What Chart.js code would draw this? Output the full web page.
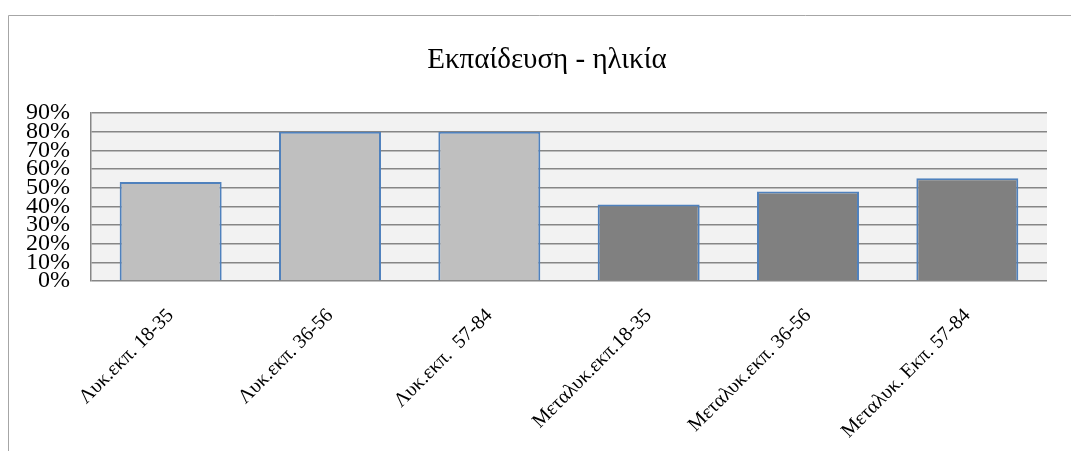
<!DOCTYPE html>
<html>
<head>
<meta charset="utf-8">
<script src="https://cdn.jsdelivr.net/npm/chart.js"></script>
<style>
  html, body { margin: 0; padding: 0; background: #fff; }
  #wrap { width: 1071px; height: 451px; }
</style>
</head>
<body>
<div id="wrap"><canvas id="chart"></canvas></div>
<script>
// data
const categories = ['Λυκ.εκπ. 18-35', 'Λυκ.εκπ. 36-56', 'Λυκ.εκπ.  57-84', 'Μεταλυκ.εκπ.18-35', 'Μεταλυκ.εκπ. 36-56', 'Μεταλυκ. Εκπ. 57-84'];
const values = [53, 80, 80, 41, 48, 55];
const barColors = ['#BFBFBF', '#BFBFBF', '#BFBFBF', '#808080', '#808080', '#808080'];
const titleText = 'Εκπαίδευση - ηλικία';

const serif = "'Liberation Serif', 'Times New Roman', serif";

// plot background, outer frame and the title (centred on the frame, not the canvas)
const frame = {
  id: 'frame',
  beforeDraw(chart) {
    const ctx = chart.ctx, a = chart.chartArea;
    ctx.save();
    ctx.fillStyle = '#F2F2F2';
    ctx.fillRect(a.left, a.top, a.right - a.left, a.bottom - a.top);
    ctx.strokeStyle = '#A6A6A6';
    ctx.lineWidth = 1;
    ctx.beginPath();
    ctx.moveTo(8.5, chart.height);
    ctx.lineTo(8.5, 15.5);
    ctx.lineTo(chart.width, 15.5);
    ctx.stroke();
    ctx.fillStyle = '#000';
    ctx.font = '29px ' + serif;
    ctx.textAlign = 'center';
    ctx.textBaseline = 'middle';
    ctx.fillText(titleText, 547, 60);
    ctx.restore();
  }
};

new Chart(document.getElementById('chart'), {
  type: 'bar',
  data: {
    labels: categories,
    datasets: [{
      data: values,
      backgroundColor: barColors,
      borderColor: '#4F81BD',
      borderWidth: 2,
      categoryPercentage: 1,
      barPercentage: 0.64
    }]
  },
  options: {
    responsive: true,
    maintainAspectRatio: false,
    animation: false,
    layout: { padding: { left: 0, right: 24, top: 113, bottom: 0 } },
    plugins: {
      legend: { display: false },
      tooltip: { enabled: false },
      title: { display: false }
    },
    scales: {
      x: {
        grid: { display: false, drawTicks: false },
        border: { display: false },
        ticks: {
          color: '#000',
          font: { family: serif, size: 20 },
          minRotation: 45,
          maxRotation: 45,
          autoSkip: false,
          padding: 23
        },
        afterFit(scale) { scale.height = 170; }
      },
      y: {
        min: 0,
        max: 90,
        grid: { color: '#868686', lineWidth: 1.5, drawTicks: false },
        border: { display: true, color: '#868686', width: 1.5 },
        ticks: {
          stepSize: 10,
          autoSkip: false,
          color: '#000',
          padding: 21,
          font: { family: serif, size: 24 },
          callback: v => v + '%'
        },
        afterFit(scale) { scale.width = 91; }
      }
    }
  },
  plugins: [frame]
});
</script>
</body>
</html>
